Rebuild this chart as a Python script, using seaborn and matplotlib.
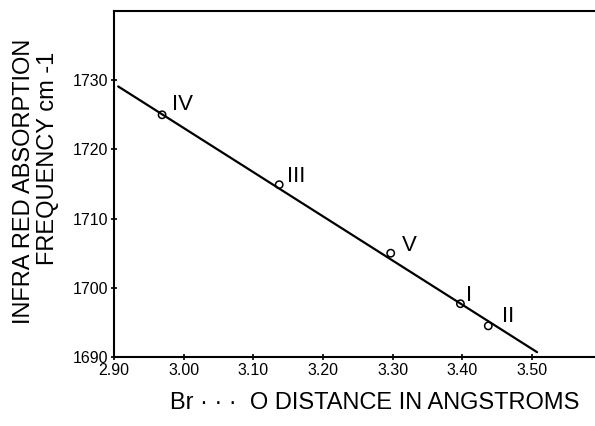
import matplotlib
matplotlib.use("Agg")
import matplotlib.pyplot as plt
import seaborn as sns
import pandas as pd

# Data
labels = ["IV", "III", "V", "I", "II"]
distance = [2.969, 3.137, 3.297, 3.397, 3.437]
frequency = [1725.0, 1714.9, 1705.0, 1697.7, 1694.5]
fit_x = [2.906, 3.507]
fit_y = [1729.1, 1690.7]
x_ticks = [2.90, 3.00, 3.10, 3.20, 3.30, 3.40, 3.50]
y_ticks = [1690, 1700, 1710, 1720, 1730]
label_offsets_px = {"IV": (20, -10), "III": (17, -8), "V": (19, -8), "I": (9, -8), "II": (20, -9)}

sns.set_theme(style="ticks")
plt.rcParams['font.family'] = ['Liberation Sans', 'DejaVu Sans']

W, H, DPI = 595, 426, 100
fig = plt.figure(figsize=(W / DPI, H / DPI), dpi=DPI)
left, right = 114 / W, 1.0
bottom, top = (H - 357) / H, (H - 11) / H
ax = fig.add_axes([left, bottom, right - left, top - bottom])

pts = pd.DataFrame({"x": distance, "y": frequency, "label": labels})
fit = pd.DataFrame({"x": fit_x, "y": fit_y})

sns.lineplot(data=fit, x="x", y="y", ax=ax, color="black", linewidth=1.6)
sns.scatterplot(data=pts, x="x", y="y", ax=ax, s=28, marker="o",
                facecolors="none", edgecolor="black", linewidth=1.1, zorder=3)

px2pt = 72 / DPI
for lab, xv, yv in zip(labels, distance, frequency):
    dx, dy = label_offsets_px[lab]
    ax.annotate(lab, (xv, yv), xytext=(dx * px2pt, -dy * px2pt), textcoords="offset points",
                ha="center", va="center", fontsize=16, color="black")

ax.set_xlim(2.90, 2.90 + (W - 114) / 697.0)
ax.set_ylim(1690, 1740)
ax.set_xticks(x_ticks)
ax.set_xticklabels([f"{t:.2f}" for t in x_ticks])
ax.set_yticks(y_ticks)
ax.set_yticklabels([str(t) for t in y_ticks])
ax.tick_params(axis="both", direction="inout", length=5, width=1.2, labelsize=11.5,
               colors="black", pad=2)
for side in ["left", "bottom", "top"]:
    ax.spines[side].set_linewidth(1.5)
    ax.spines[side].set_color("black")
ax.spines["right"].set_visible(False)
ax.set_xlabel("")
ax.set_ylabel("")

fig.text(24 / W, 1 - 181 / H, "INFRA RED ABSORPTION", rotation=90, ha="center", va="center",
         fontsize=17, color="black")
fig.text(48 / W, 1 - 158 / H, "FREQUENCY cm -1", rotation=90, ha="center", va="center",
         fontsize=17, color="black")
fig.text(375 / W, 1 - 403 / H, "Br \u00b7 \u00b7 \u00b7  O DISTANCE IN ANGSTROMS", ha="center", va="center",
         fontsize=17, color="black")

fig.savefig("out.png", dpi=DPI)
